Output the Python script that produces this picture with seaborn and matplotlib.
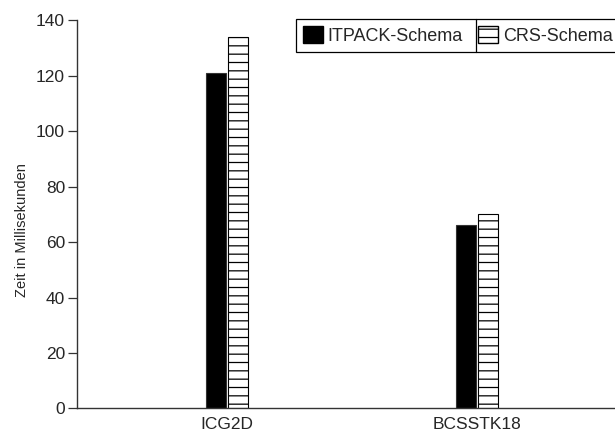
import pandas as pd
import seaborn as sns
import matplotlib.pyplot as plt
from matplotlib.patches import Patch
from matplotlib.lines import Line2D

# Werte (Zeit in ms)
matrizen = ["ICG2D", "BCSSTK18"]
schemata = ["ITPACK-Schema", "CRS-Schema"]
itpack_ms = [121, 66]
crs_ms = [134, 70]

df = pd.DataFrame({
    "Matrix": matrizen * 2,
    "Schema": [schemata[0]] * 2 + [schemata[1]] * 2,
    "Zeit": itpack_ms + crs_ms,
})

sns.set_style("ticks")
plt.rcParams["font.family"] = ["Liberation Sans", "DejaVu Sans"]
plt.rcParams["hatch.linewidth"] = 0.9

fig = plt.figure(figsize=(6.15, 4.34), dpi=100)
ax = fig.add_axes([0.125, 0.0588, 0.875, 0.895])

sns.barplot(data=df, x="Matrix", y="Zeit", hue="Schema", order=matrizen,
            hue_order=schemata, palette=["black", "white"], width=0.175,
            gap=0.06, edgecolor="#333333", linewidth=0.8, legend=False, ax=ax)

# CRS-Balken schraffieren
for bar in ax.containers[1]:
    bar.set_hatch("--")
    bar.set_edgecolor("black")

ax.set_xlim(-0.6, 1.552)
ax.set_ylim(0, 140)
ax.set_yticks(range(0, 141, 20))
ax.set_xlabel("")
ax.set_ylabel("Zeit in Millisekunden", fontsize=10.5)
ax.yaxis.set_label_coords(-0.089, 0.46)
ax.tick_params(axis="y", length=6.5, width=0.9, pad=2, labelsize=12.5, color="#333333")
ax.tick_params(axis="x", length=0, pad=6, labelsize=12.5)
sns.despine(ax=ax)
for s in ["left", "bottom"]:
    ax.spines[s].set_color("#333333")
    ax.spines[s].set_linewidth(1.0)

handles = [Patch(facecolor="black", edgecolor="black"),
           Patch(facecolor="white", edgecolor="black", hatch="--")]
leg = ax.legend(handles, schemata, ncol=2, loc="upper left",
                bbox_to_anchor=(296 / 615, 1 - 19 / 434), bbox_transform=fig.transFigure,
                fontsize=13, frameon=True, fancybox=False, framealpha=1,
                edgecolor="black", handlelength=1.1, handleheight=1.1,
                handletextpad=0.28, columnspacing=0.85, borderpad=0.38,
                borderaxespad=0)
leg.get_frame().set_linewidth(0.9)

# Trennstrich zwischen den Legenden-Eintraegen
fig.canvas.draw()
box = leg.get_frame().get_window_extent().transformed(fig.transFigure.inverted())
sep_x = 476 / 615
fig.add_artist(Line2D([sep_x, sep_x], [box.y0, box.y1],
                      transform=fig.transFigure, color="black", linewidth=0.9))

plt.savefig("out.png", dpi=100)
